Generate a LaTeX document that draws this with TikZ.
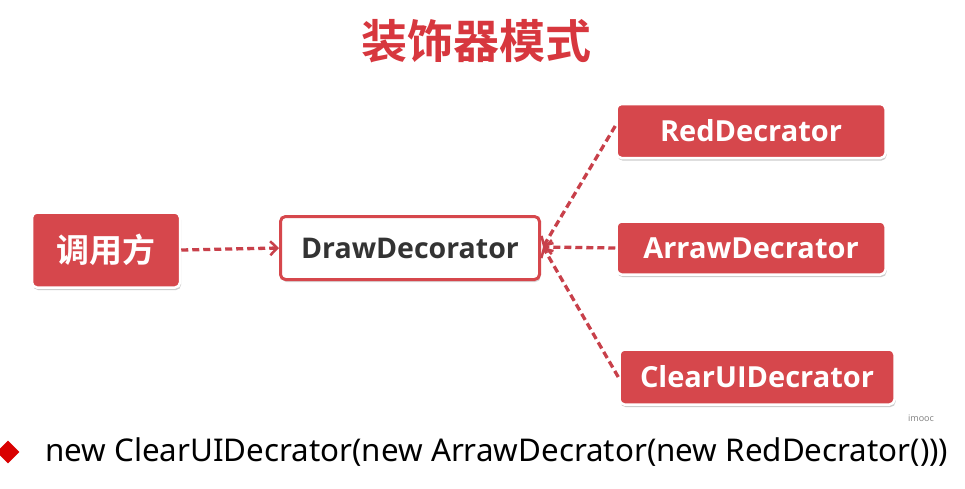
\documentclass[tikz,border=0pt]{standalone}
\usepackage{fontspec}
\setmainfont{Open Sans}
\newfontfamily\cjk{Noto Sans CJK SC}[BoldFont={* Bold}]
\newfontfamily\latinb{Open Sans}
\newfontfamily\codefont{Noto Sans}
\usetikzlibrary{arrows.meta,shadows,shapes.geometric}
\definecolor{boxred}{HTML}{D6474C}
\definecolor{titlered}{HTML}{D7373E}
\definecolor{linered}{HTML}{C8404A}
\definecolor{darktext}{HTML}{333333}
\tikzset{
  redbox/.style={rectangle, rounded corners=5pt, fill=boxred, draw=white, line width=2.5pt,
    inner sep=0pt, text=white, font=\latinb\bfseries\fontsize{29}{32}\selectfont,
    drop shadow={opacity=0.4, shadow xshift=1pt, shadow yshift=-2.5pt}},
  whitebox/.style={rectangle, rounded corners=5pt, fill=white, draw=boxred, line width=3pt,
    inner sep=0pt, text=darktext, font=\latinb\bfseries\fontsize{28.5}{32}\selectfont,
    drop shadow={opacity=0.3, shadow xshift=1pt, shadow yshift=-2.5pt}},
  dep/.style={draw=linered, line width=3.3pt, dash pattern=on 7pt off 4pt,
    -{Straight Barb[length=7pt,width=14pt,line width=2.5pt]}}
}
\begin{document}
\begin{tikzpicture}[x=1pt,y=-1pt]
\useasboundingbox[fill=white] (0,0) rectangle (965,488);
\node[text=titlered, font=\cjk\bfseries\fontsize{46}{50}\selectfont] (title) at (476,41) {装饰器模式};
\node[redbox, minimum width=148pt, minimum height=75pt, font=\cjk\bfseries\fontsize{33}{36}\selectfont] (caller) at (106,250) {调用方};
\node[whitebox, minimum width=259pt, minimum height=63pt] (draw) at (410,248) {DrawDecorator};
\node[redbox, minimum width=269pt, minimum height=54pt] (red) at (751,131) {RedDecrator};
\node[redbox, minimum width=269pt, minimum height=53pt] (arraw) at (751,248) {ArrawDecrator};
\node[redbox, minimum width=275pt, minimum height=55pt] (clear) at (757,377) {ClearUIDecrator};
\coordinate (tip) at (543,247);
\draw[dep] (caller.east) -- (draw.west);
\draw[dep] (red.west) ++(0,-5) -- (tip);
\draw[dep] (arraw.west) -- (tip);
\draw[dep] (clear.west) -- (tip);
\node[font=\latinb\fontsize{9}{10}\selectfont, text=gray] (imooc) at (921,418) {imooc};
\node[diamond, aspect=1, fill=red!85!black, inner sep=0pt, minimum width=23pt, minimum height=23pt] (bullet) at (8,452) {};
\node[anchor=west, inner sep=0pt, text=black] (code) at (45,452) {\resizebox{903pt}{!}{\codefont\fontsize{30}{34}\selectfont new ClearUIDecrator(new ArrawDecrator(new RedDecrator()))}};
\end{tikzpicture}
\end{document}
